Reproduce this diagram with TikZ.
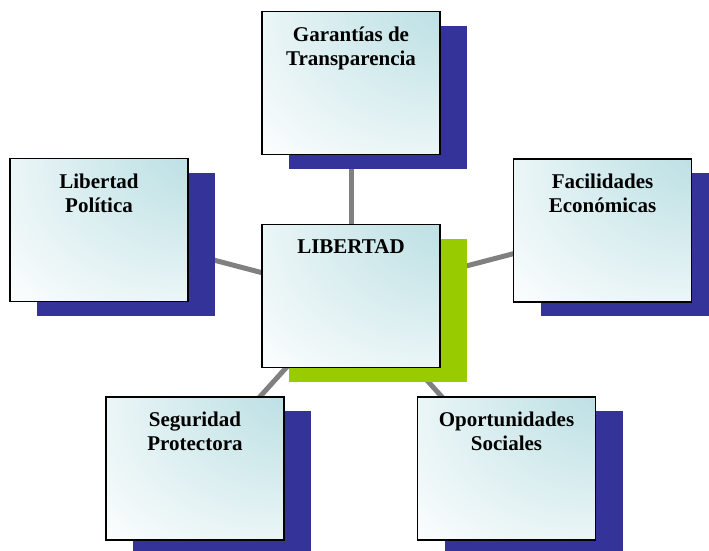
\documentclass[tikz,border=0pt]{standalone}
\usepackage{fontspec}
\setmainfont{Liberation Serif}
\usepackage{xcolor}
\usepackage{tikz}
\usetikzlibrary{shadows,backgrounds}

\definecolor{shadowblue}{RGB}{51,51,153}
\definecolor{shadowgreen}{RGB}{153,204,0}
\definecolor{boxteal}{RGB}{184,222,226}
\definecolor{linkgray}{RGB}{128,128,128}

% light teal glow in the upper right corner of each box
\pgfdeclareradialshading{tealcorner}{\pgfpoint{38bp}{38bp}}{%
  color(0bp)=(boxteal); color(8bp)=(boxteal);
  color(60bp)=(white); color(100bp)=(white)}

\begin{document}
\begin{tikzpicture}[
    x = 1pt, y = -1pt,
    boxbase/.style = {rectangle, draw, line width=1.5pt, minimum width=178pt,
                 minimum height=143pt, inner sep=0pt, shading=tealcorner},
    box/.style = {boxbase, drop shadow={shadow xshift=27pt, shadow yshift=-14pt,
                 opacity=1, fill=shadowblue}},
    hub/.style = {boxbase, drop shadow={shadow xshift=27pt, shadow yshift=-14pt,
                 opacity=1, fill=shadowgreen}},
    lbl/.style = {anchor=north, align=center, inner sep=0pt,
                 font=\bfseries\fontsize{21}{24}\selectfont},
    link/.style = {draw=linkgray, line width=5pt}
]

\useasboundingbox (0,0) rectangle (709,550);
\clip (0,0) rectangle (709,550);

% Boxes
\node[hub] (libertad) at (351,296) {};
\node[box] (garantias) at (351,83) {};
\node[box] (politica) at (99,230) {};
\node[box] (economicas) at (602.5,230.5) {};
\node[box] (seguridad) at (195,468.5) {};
\node[box] (sociales) at (506.5,468.5) {};

% Labels
\node[lbl] (libertad-t) at ([yshift=-15.5pt]libertad.north) {LIBERTAD};
\node[lbl] (garantias-t) at ([yshift=-15.5pt]garantias.north) {Garantías de\\Transparencia};
\node[lbl] (politica-t) at ([yshift=-15.5pt]politica.north) {Libertad\\Política};
\node[lbl] (economicas-t) at ([yshift=-15.5pt]economicas.north) {Facilidades\\Económicas};
\node[lbl] (seguridad-t) at ([yshift=-15.5pt]seguridad.north) {Seguridad\\Protectora};
\node[lbl] (sociales-t) at ([yshift=-15.5pt]sociales.north) {Oportunidades\\Sociales};

% Links behind the boxes
\begin{scope}[on background layer]
\draw[link] (libertad.center) -- (garantias.center);
\draw[link] (libertad.center) -- (politica.center);
\draw[link] (libertad.center) -- (economicas.center);
\draw[link] (libertad.center) -- (seguridad.center);
\draw[link] (libertad.center) -- (sociales.center);
\end{scope}

\end{tikzpicture}
\end{document}
